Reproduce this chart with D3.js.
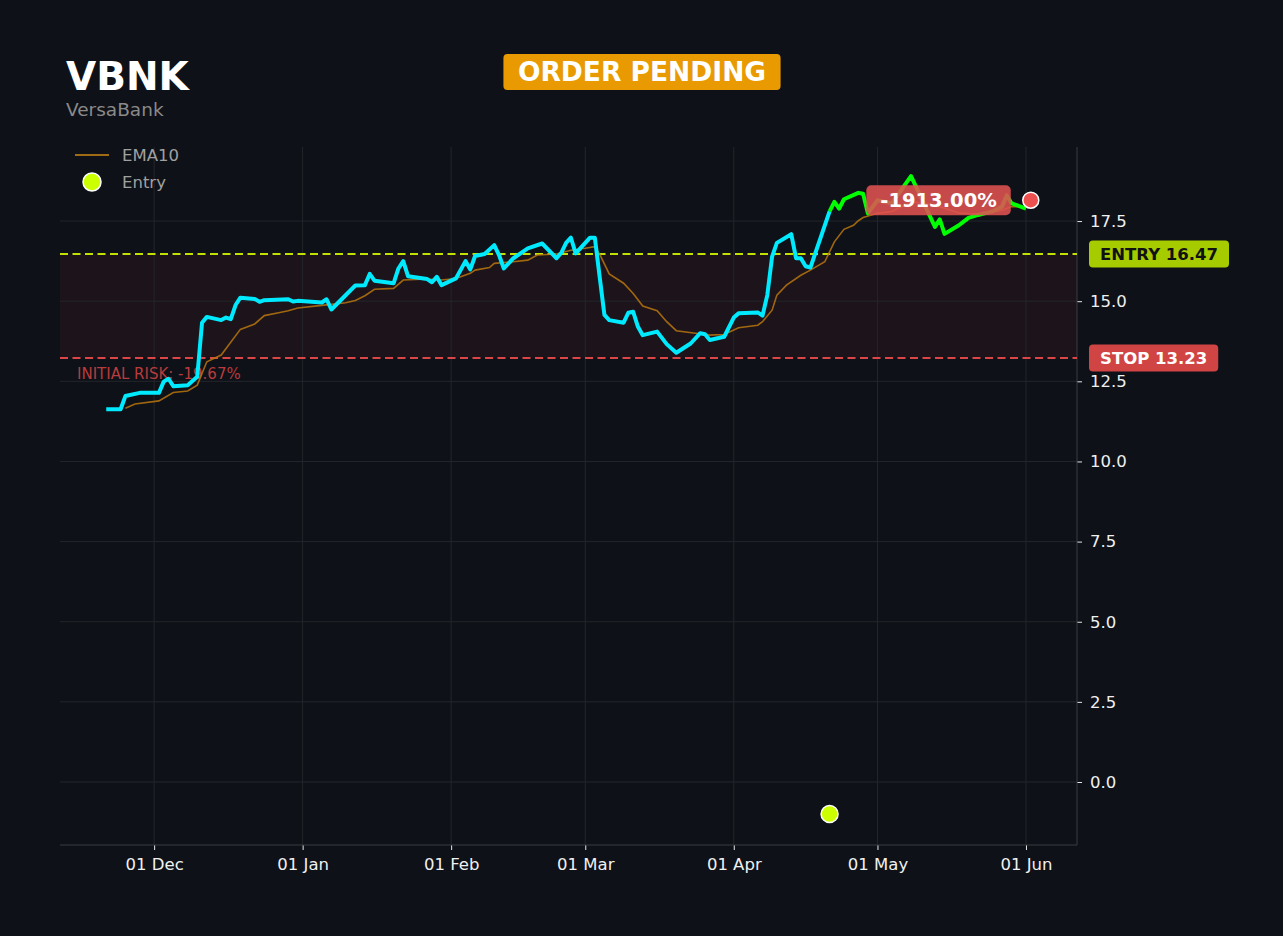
<!DOCTYPE html>
<html>
<head>
<meta charset="utf-8">
<script src="https://cdn.jsdelivr.net/npm/d3@7"></script>
<style>
  html, body { margin: 0; padding: 0; background: #0e1117; }
  svg { display: block; font-family: "DejaVu Sans", sans-serif; }
</style>
</head>
<body>
<svg id="chart" width="1283" height="936"></svg>
<script>
  // --- data ---
  const ticker = 'VBNK';
  const companyName = 'VersaBank';
  const statusText = 'ORDER PENDING';

  const closeDates = [
    '2024-11-21', '2024-11-24', '2024-11-25', '2024-11-28', '2024-12-02', '2024-12-03', '2024-12-04',
    '2024-12-05', '2024-12-08', '2024-12-10', '2024-12-11', '2024-12-12', '2024-12-15', '2024-12-16',
    '2024-12-17', '2024-12-18', '2024-12-19', '2024-12-22', '2024-12-23', '2024-12-24', '2024-12-29',
    '2024-12-30', '2024-12-31', '2025-01-05', '2025-01-06', '2025-01-07', '2025-01-12', '2025-01-14',
    '2025-01-15', '2025-01-16', '2025-01-20', '2025-01-21', '2025-01-22', '2025-01-23', '2025-01-27',
    '2025-01-28', '2025-01-29', '2025-01-30', '2025-02-02', '2025-02-04', '2025-02-05', '2025-02-06',
    '2025-02-08', '2025-02-10', '2025-02-11', '2025-02-12', '2025-02-14', '2025-02-17', '2025-02-20',
    '2025-02-23', '2025-02-24', '2025-02-25', '2025-02-26', '2025-02-27', '2025-03-02', '2025-03-03',
    '2025-03-04', '2025-03-05', '2025-03-06', '2025-03-09', '2025-03-10', '2025-03-11', '2025-03-12',
    '2025-03-13', '2025-03-16', '2025-03-18', '2025-03-20', '2025-03-23', '2025-03-25', '2025-03-26',
    '2025-03-27', '2025-03-30', '2025-04-01', '2025-04-02', '2025-04-06', '2025-04-07', '2025-04-08',
    '2025-04-09', '2025-04-10', '2025-04-13', '2025-04-14', '2025-04-15', '2025-04-16', '2025-04-17',
    '2025-04-21', '2025-04-22', '2025-04-23', '2025-04-24', '2025-04-27', '2025-04-28', '2025-04-29',
    '2025-05-01', '2025-05-04', '2025-05-08', '2025-05-13', '2025-05-14', '2025-05-15', '2025-05-18',
    '2025-05-20', '2025-05-22', '2025-05-25', '2025-05-27', '2025-05-28', '2025-05-29', '2025-06-01'
  ];
  const closes = [
    11.63, 11.63, 12.04, 12.14, 12.14, 12.49, 12.58,
    12.35, 12.38, 12.64, 14.33, 14.51, 14.41, 14.49,
    14.44, 14.88, 15.11, 15.07, 14.98, 15.03, 15.06,
    14.99, 15.01, 14.96, 15.06, 14.74, 15.49, 15.50,
    15.85, 15.64, 15.56, 16.02, 16.25, 15.78, 15.69,
    15.59, 15.76, 15.50, 15.71, 16.25, 15.99, 16.41,
    16.47, 16.75, 16.44, 16.02, 16.34, 16.65, 16.80,
    16.34, 16.51, 16.82, 16.98, 16.49, 16.98, 16.98,
    15.76, 14.57, 14.41, 14.33, 14.64, 14.67, 14.20,
    13.94, 14.05, 13.66, 13.39, 13.68, 14.00, 13.97,
    13.79, 13.89, 14.49, 14.62, 14.65, 14.55, 15.19,
    16.39, 16.82, 17.09, 16.34, 16.34, 16.09, 16.05,
    17.80, 18.10, 17.89, 18.18, 18.38, 18.35, 17.74,
    18.15, 18.05, 18.90, 17.32, 17.55, 17.10, 17.37,
    17.60, 17.69, 17.80, 17.95, 18.30, 18.05, 17.89
  ];

  const emaDates = [
    '2024-11-25', '2024-11-27', '2024-12-02', '2024-12-05', '2024-12-08', '2024-12-10', '2024-12-12',
    '2024-12-15', '2024-12-19', '2024-12-22', '2024-12-24', '2024-12-27', '2024-12-29', '2024-12-31',
    '2025-01-05', '2025-01-10', '2025-01-12', '2025-01-14', '2025-01-16', '2025-01-20', '2025-01-22',
    '2025-01-27', '2025-01-30', '2025-02-02', '2025-02-05', '2025-02-06', '2025-02-09', '2025-02-10',
    '2025-02-14', '2025-02-17', '2025-02-19', '2025-02-23', '2025-02-26', '2025-03-01', '2025-03-03',
    '2025-03-04', '2025-03-06', '2025-03-09', '2025-03-11', '2025-03-13', '2025-03-16', '2025-03-18',
    '2025-03-20', '2025-03-24', '2025-03-27', '2025-03-30', '2025-04-02', '2025-04-06', '2025-04-07',
    '2025-04-09', '2025-04-10', '2025-04-12', '2025-04-15', '2025-04-17', '2025-04-20', '2025-04-22',
    '2025-04-24', '2025-04-26', '2025-04-27', '2025-04-28', '2025-05-01', '2025-05-04', '2025-05-08',
    '2025-05-13', '2025-05-18', '2025-05-22', '2025-05-27', '2025-05-29', '2025-06-01'
  ];
  const emaValues = [
    11.66, 11.79, 11.89, 12.15, 12.20, 12.38, 13.11,
    13.32, 14.12, 14.29, 14.55, 14.64, 14.70, 14.79,
    14.87, 14.95, 15.02, 15.17, 15.37, 15.40, 15.66,
    15.69, 15.66, 15.71, 15.87, 15.97, 16.05, 16.18,
    16.23, 16.28, 16.44, 16.47, 16.59, 16.65, 16.70,
    16.47, 15.85, 15.56, 15.24, 14.85, 14.70, 14.36,
    14.08, 14.00, 13.94, 13.96, 14.17, 14.25, 14.36,
    14.72, 15.19, 15.50, 15.81, 15.97, 16.23, 16.85,
    17.24, 17.37, 17.51, 17.61, 17.74, 17.80, 18.10,
    18.00, 17.75, 17.72, 17.84, 17.95, 17.95
  ];

  const entryDate = '2025-04-21';
  const entryMarkerValue = -1.0;
  const entryPrice = 16.47;
  const stopPrice = 13.23;
  const lastDate = '2025-06-02';
  const lastPrice = 18.15;
  const pnlText = '-1913.00%';
  const riskText = 'INITIAL RISK: -19.67%';
  const yTicks = [0, 2.5, 5, 7.5, 10, 12.5, 15, 17.5];
  const monthTicks = ['2024-12-01', '2025-01-01', '2025-02-01', '2025-03-01', '2025-04-01', '2025-05-01', '2025-06-01'];

  // --- layout ---
  const plot = { left: 60, right: 1077, top: 147, bottom: 845 };
  const bg = '#0e1117';
  const parse = d3.timeParse('%Y-%m-%d');

  const prices = closeDates.map((d, i) => ({ date: parse(d), value: closes[i] }));
  const ema = emaDates.map((d, i) => ({ date: parse(d), value: emaValues[i] }));
  const entryD = parse(entryDate);
  const lastD = parse(lastDate);

  const t0 = prices[0].date.getTime(), t1 = lastD.getTime();
  const pad = (t1 - t0) * 0.05;
  const x = d3.scaleTime()
    .domain([new Date(t0 - pad), new Date(t1 + pad)])
    .range([plot.left, plot.right]);
  const y = d3.scaleLinear()
    .domain([-1.965, 19.81])
    .range([plot.bottom, plot.top]);

  const svg = d3.select('#chart');
  svg.append('rect').attr('width', 1283).attr('height', 936).attr('fill', bg);

  // risk band between entry and stop
  svg.append('rect')
    .attr('x', plot.left)
    .attr('y', y(entryPrice))
    .attr('width', plot.right - plot.left)
    .attr('height', y(stopPrice) - y(entryPrice))
    .attr('fill', 'rgba(208,64,64,0.08)');

  // grid
  const grid = svg.append('g').attr('stroke', '#23262c').attr('stroke-width', 1);
  grid.selectAll('line.h')
    .data(yTicks)
    .join('line')
      .attr('class', 'h')
      .attr('x1', plot.left).attr('x2', plot.right)
      .attr('y1', d => y(d)).attr('y2', d => y(d));
  grid.selectAll('line.v')
    .data(monthTicks.map(parse))
    .join('line')
      .attr('class', 'v')
      .attr('x1', d => x(d)).attr('x2', d => x(d))
      .attr('y1', plot.top).attr('y2', plot.bottom);

  // axes
  const yAxis = svg.append('g')
    .attr('transform', `translate(${plot.right},0)`)
    .call(d3.axisRight(y).tickValues(yTicks).tickFormat(d3.format('.1f')).tickSize(5).tickPadding(8));
  const xAxis = svg.append('g')
    .attr('transform', `translate(0,${plot.bottom})`)
    .call(d3.axisBottom(x).tickValues(monthTicks.map(parse)).tickFormat(d3.timeFormat('%d %b')).tickSize(5).tickPadding(8));
  [yAxis, xAxis].forEach(a => {
    a.select('.domain').remove();
    a.selectAll('.tick line').attr('stroke', '#e6e6e6');
    a.selectAll('.tick text').attr('fill', '#f0f0f0').attr('font-size', 16.5)
      .attr('font-family', '"DejaVu Sans", sans-serif');
  });
  // spines (right and bottom only)
  svg.append('line')
    .attr('x1', plot.right).attr('x2', plot.right)
    .attr('y1', plot.top).attr('y2', plot.bottom)
    .attr('stroke', '#3a3d44');
  svg.append('line')
    .attr('x1', plot.left).attr('x2', plot.right)
    .attr('y1', plot.bottom).attr('y2', plot.bottom)
    .attr('stroke', '#3a3d44');

  // entry / stop lines
  svg.append('line')
    .attr('x1', plot.left).attr('x2', plot.right)
    .attr('y1', y(entryPrice)).attr('y2', y(entryPrice))
    .attr('stroke', '#c4e000').attr('stroke-width', 2)
    .attr('stroke-dasharray', '8,4.5');
  svg.append('line')
    .attr('x1', plot.left).attr('x2', plot.right)
    .attr('y1', y(stopPrice)).attr('y2', y(stopPrice))
    .attr('stroke', '#dc4646').attr('stroke-width', 2)
    .attr('stroke-dasharray', '8,4.5');

  svg.append('text')
    .attr('x', 77)
    .attr('y', y(stopPrice) + 21)
    .attr('fill', '#b83c3c')
    .attr('font-size', 15)
    .text(riskText);

  // lines
  const line = d3.line()
    .x(d => x(d.date))
    .y(d => y(d.value));

  svg.append('path')
    .datum(ema)
    .attr('d', line)
    .attr('fill', 'none')
    .attr('stroke', '#b8760f')
    .attr('stroke-opacity', 0.85)
    .attr('stroke-width', 1.6);

  const before = prices.filter(d => d.date <= entryD);
  const after = prices.filter(d => d.date >= entryD);

  svg.append('path')
    .datum(before)
    .attr('d', line)
    .attr('fill', 'none')
    .attr('stroke', '#00eaff')
    .attr('stroke-width', 4)
    .attr('stroke-linejoin', 'round');
  svg.append('path')
    .datum(after)
    .attr('d', line)
    .attr('fill', 'none')
    .attr('stroke', '#00ff00')
    .attr('stroke-width', 4)
    .attr('stroke-linejoin', 'round');

  // entry marker
  svg.append('circle')
    .attr('cx', x(entryD))
    .attr('cy', y(entryMarkerValue))
    .attr('r', 8.5)
    .attr('fill', '#ccff00')
    .attr('stroke', '#ffffff')
    .attr('stroke-width', 1.5);

  // last price marker + pnl label
  const lx = x(lastD), ly = y(lastPrice);
  const pnl = svg.append('g');
  const pnlTextEl = pnl.append('text')
    .attr('fill', '#ffffff')
    .attr('font-size', 19.5)
    .attr('font-weight', 'bold')
    .attr('text-anchor', 'middle')
    .text(pnlText);
  const pw = pnlTextEl.node().getComputedTextLength() + 28;
  const pRight = lx - 20;
  pnl.insert('rect', 'text')
    .attr('x', pRight - pw)
    .attr('y', ly - 15)
    .attr('width', pw)
    .attr('height', 30)
    .attr('rx', 5)
    .attr('fill', '#e05252')
    .attr('fill-opacity', 0.88);
  pnlTextEl.attr('x', pRight - pw / 2).attr('y', ly + 7);

  svg.append('circle')
    .attr('cx', lx)
    .attr('cy', ly)
    .attr('r', 8)
    .attr('fill', '#ee5050')
    .attr('stroke', '#ffffff')
    .attr('stroke-width', 1.5);

  // legend
  const legend = svg.append('g');
  legend.append('line')
    .attr('x1', 75).attr('x2', 109)
    .attr('y1', 155).attr('y2', 155)
    .attr('stroke', '#9e6a14').attr('stroke-width', 1.8);
  legend.append('text')
    .attr('x', 122).attr('y', 161)
    .attr('fill', '#a0a0a0').attr('font-size', 16.5)
    .text('EMA10');
  legend.append('circle')
    .attr('cx', 92).attr('cy', 182).attr('r', 9)
    .attr('fill', '#ccff00').attr('stroke', '#ffffff').attr('stroke-width', 1.5);
  legend.append('text')
    .attr('x', 122).attr('y', 188)
    .attr('fill', '#a0a0a0').attr('font-size', 16.5)
    .text('Entry');

  // header
  svg.append('text')
    .attr('x', 66).attr('y', 90)
    .attr('fill', '#ffffff')
    .attr('font-size', 39)
    .attr('font-weight', 'bold')
    .text(ticker);
  svg.append('text')
    .attr('x', 66).attr('y', 116)
    .attr('fill', '#8a8a8a')
    .attr('font-size', 18.5)
    .text(companyName);

  const badge = svg.append('g');
  const badgeText = badge.append('text')
    .attr('x', 642).attr('y', 81)
    .attr('text-anchor', 'middle')
    .attr('fill', '#ffffff')
    .attr('font-size', 26.5)
    .attr('font-weight', 'bold')
    .text(statusText);
  const bw = badgeText.node().getComputedTextLength() + 29;
  badge.insert('rect', 'text')
    .attr('x', 642 - bw / 2).attr('y', 54)
    .attr('width', bw).attr('height', 36)
    .attr('rx', 4)
    .attr('fill', '#e89a00');

  // right side price tags
  function priceTag(value, label, fill, color) {
    const g = svg.append('g');
    const t = g.append('text')
      .attr('x', 1100)
      .attr('y', y(value) + 6)
      .attr('fill', color)
      .attr('font-size', 16.5)
      .attr('font-weight', 'bold')
      .text(label);
    const w = t.node().getComputedTextLength() + 22;
    g.insert('rect', 'text')
      .attr('x', 1089)
      .attr('y', y(value) - 13.5)
      .attr('width', w)
      .attr('height', 27)
      .attr('rx', 4)
      .attr('fill', fill);
  }
  priceTag(entryPrice, 'ENTRY ' + entryPrice.toFixed(2), '#a6cc00', '#111111');
  priceTag(stopPrice, 'STOP ' + stopPrice.toFixed(2), '#d04444', '#ffffff');
</script>
</body>
</html>
